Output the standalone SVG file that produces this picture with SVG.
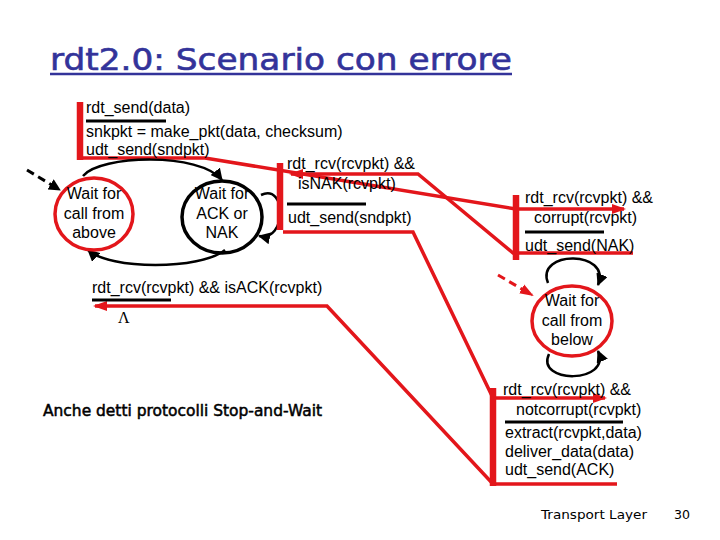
<svg xmlns="http://www.w3.org/2000/svg" width="720" height="540" viewBox="0 0 720 540">
<style>
.t{font-family:"Liberation Sans",Arial,sans-serif;font-size:16px;fill:#000}
.c{text-anchor:middle}
.comic{font-family:"DejaVu Sans","Open Sans",sans-serif}
.red{fill:none;stroke:#e3161b;stroke-width:3.5;stroke-linejoin:miter}
.bar{stroke:#e3161b;stroke-width:6.5}
.ul{stroke:#000;stroke-width:3}
.st-red{fill:none;stroke:#e3161b;stroke-width:3.5}
.st-blk{fill:none;stroke:#000;stroke-width:3.5}
.arc{fill:none;stroke:#000;stroke-width:2.5}
</style>
<defs>
<marker id="ab" markerUnits="userSpaceOnUse" markerWidth="14" markerHeight="12" refX="11" refY="6" orient="auto"><path d="M0,0 L12,6 L0,12 Z" fill="#000"/></marker>
<marker id="ar" markerUnits="userSpaceOnUse" markerWidth="16" markerHeight="12" refX="12" refY="6" orient="auto"><path d="M0,1 L14,6 L0,11 Z" fill="#e3161b"/></marker>
</defs>
<rect width="720" height="540" fill="#fff"/>
<g id="title">
<text x="50" y="70" class="comic" font-size="30" fill="#33339a" stroke="#33339a" stroke-width="0.6" textLength="462" lengthAdjust="spacingAndGlyphs">rdt2.0: Scenario con errore</text>
<line x1="50" y1="74" x2="512" y2="74" stroke="#33339a" stroke-width="2.5"/>
</g>
<g id="connectors">
<path class="red" d="M80,158 L205,158 L516,209 L624,209" marker-end="url(#ar)"/>
<path class="red" d="M633,253 L513,253 L418,174 L291,174" marker-end="url(#ar)"/>
<path class="red" d="M283,232 L413,232 L493,398 L605,398" marker-end="url(#ar)"/>
<path class="red" d="M617,484 L493,484 L327,306 L95,306" marker-end="url(#ar)"/>
<path d="M498,275 L532,295" fill="none" stroke="#e3161b" stroke-width="3" stroke-dasharray="8,5" marker-end="url(#ar)"/>
<path d="M27,170 L60,190" fill="none" stroke="#000" stroke-width="3" stroke-dasharray="8,5" marker-end="url(#ab)"/>
<path class="arc" d="M83,176 C100,155 200,152 222,180" marker-end="url(#ab)"/>
<path class="arc" d="M225,250 C200,270 110,270 88,250" marker-end="url(#ab)"/>
<path class="arc" d="M261,195 C287,183 287,242 259,236" marker-end="url(#ab)"/>
<path class="arc" d="M548,283 C535,250 612,250 598,285" marker-end="url(#ab)"/>
<path class="arc" d="M549,354 C535,384 612,384 598,351" marker-end="url(#ab)"/>
</g>
<g id="sender-wait-above">
<ellipse cx="94" cy="214" rx="39" ry="36" class="st-red"/>
<text class="t c" x="94" y="199">Wait for</text>
<text class="t c" x="94" y="219">call from</text>
<text class="t c" x="94" y="238">above</text>
</g>
<g id="sender-wait-ack">
<ellipse cx="222" cy="217" rx="40" ry="36" class="st-blk"/>
<text class="t c" x="222" y="199">Wait for</text>
<text class="t c" x="222" y="219">ACK or</text>
<text class="t c" x="222" y="238">NAK</text>
</g>
<g id="receiver-wait-below">
<ellipse cx="572" cy="321" rx="40" ry="35" class="st-red"/>
<text class="t c" x="572" y="306">Wait for</text>
<text class="t c" x="572" y="326">call from</text>
<text class="t c" x="572" y="345">below</text>
</g>
<g id="label-send">
<line class="bar" x1="80" y1="102" x2="80" y2="160"/>
<text class="t" x="86" y="113">rdt_send(data)</text>
<line class="ul" x1="86" y1="121" x2="166" y2="121"/>
<text class="t" x="86" y="137">snkpkt = make_pkt(data, checksum)</text>
<text class="t" x="86" y="155">udt_send(sndpkt)</text>
</g>
<g id="label-nak">
<line class="bar" x1="280" y1="163" x2="280" y2="230"/>
<text class="t" x="287" y="169">rdt_rcv(rcvpkt) &amp;&amp;</text>
<text class="t" x="298" y="189">isNAK(rcvpkt)</text>
<line class="ul" x1="287" y1="204" x2="366" y2="204"/>
<text class="t" x="288" y="223">udt_send(sndpkt)</text>
</g>
<g id="label-ack">
<text class="t" x="92" y="293">rdt_rcv(rcvpkt) &amp;&amp; isACK(rcvpkt)</text>
<line class="ul" x1="92" y1="300" x2="171" y2="300"/>
<text x="118" y="323" font-family="Liberation Serif,serif" font-size="16">Λ</text>
</g>
<g id="label-corrupt">
<line class="bar" x1="516" y1="195" x2="516" y2="260"/>
<text class="t" x="525" y="203">rdt_rcv(rcvpkt) &amp;&amp;</text>
<text class="t" x="534" y="223">corrupt(rcvpkt)</text>
<line class="ul" x1="525" y1="232" x2="604" y2="232"/>
<text class="t" x="525" y="251">udt_send(NAK)</text>
</g>
<g id="label-notcorrupt">
<line class="bar" x1="493" y1="388" x2="493" y2="486"/>
<text class="t" x="503" y="395">rdt_rcv(rcvpkt) &amp;&amp;</text>
<text class="t" x="516" y="415">notcorrupt(rcvpkt)</text>
<line class="ul" x1="505" y1="422" x2="623" y2="422"/>
<text class="t" x="505" y="438">extract(rcvpkt,data)</text>
<text class="t" x="505" y="457">deliver_data(data)</text>
<text class="t" x="505" y="475">udt_send(ACK)</text>
</g>
<g id="notes">
<text x="43" y="416" class="comic" font-size="15" stroke="#000" stroke-width="0.5" textLength="279" lengthAdjust="spacingAndGlyphs">Anche detti protocolli Stop-and-Wait</text>
<text x="541" y="519" class="comic" font-size="13" textLength="106" lengthAdjust="spacingAndGlyphs">Transport Layer</text>
<text x="674" y="519" class="comic" font-size="13" textLength="16" lengthAdjust="spacingAndGlyphs">30</text>
</g>
</svg>
